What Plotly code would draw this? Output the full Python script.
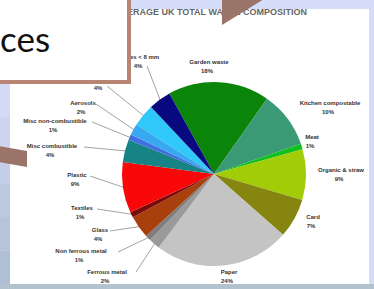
import math
import plotly.graph_objects as go

W, H = 374, 289

# ---- data ----
categories = ["Garden waste", "Kitchen compostable", "Meat", "Organic & straw", "Card", "Paper",
              "Ferrous metal", "Non ferrous metal", "Glass", "Textiles", "Plastic",
              "Misc combustible", "Misc non-combustible", "Aerosols", "Nappies", "Fines < 8 mm"]
values = [18, 10, 1, 9, 7, 24, 2, 1, 4, 1, 9, 4, 1, 2, 4, 4]
pct_labels = [f"{v}%" for v in values]
title_text = "AVERAGE UK TOTAL WASTE COMPOSITION"
callout_line1 = "Other"
callout_line2 = "ces"

# ---- styles / layout positions (px from top-left) ----
colors = ["#0a850a", "#3a9a76", "#10c020", "#a2cc08", "#858510", "#c4c4c4",
          "#9a9a9a", "#7e7e7e", "#a8400e", "#7a0a0a", "#f80808",
          "#168484", "#4070e0", "#38a8f0", "#30c8f8", "#0a0a80"]
label_pos = [(209, 62), (330, 103), (312, 137), (341, 170), (313, 217), (229, 272),
             (107, 272), (81, 251), (100, 230), (82, 208), (77, 175),
             (52, 146), (55, 121), (83, 103), (100, 79), (140, 57)]
leader_from = {6: (136, 272), 7: (118, 252), 8: (110, 231), 9: (97, 209), 10: (90, 176),
               11: (84, 147), 12: (92, 122), 13: (96, 104), 14: (107, 86), 15: (147, 66)}
CX, CY, R = 214, 174, 92
ROT = -29
BROWN = "#9a7468"
LABEL_FONT = dict(family="Liberation Sans, Arial", size=6, color="#333333", weight="bold")

fig = go.Figure()

# category labels and percentages (text drawn under the callout box)
fig.add_trace(go.Scatter(
    x=[p[0] for p in label_pos], y=[p[1] for p in label_pos], mode="text",
    text=categories, textposition="middle center", cliponaxis=False,
    textfont=LABEL_FONT, hoverinfo="skip", showlegend=False))
fig.add_trace(go.Scatter(
    x=[p[0] - 2 for p in label_pos], y=[p[1] + 9 for p in label_pos], mode="text",
    text=pct_labels, textposition="middle center", cliponaxis=False,
    textfont=LABEL_FONT, hoverinfo="skip", showlegend=False))
# chart title
fig.add_trace(go.Scatter(
    x=[211], y=[13], mode="text", text=[title_text], textposition="middle center",
    cliponaxis=False,
    textfont=dict(family="Liberation Sans, Arial", size=9, color="#666666", weight="bold"),
    hoverinfo="skip", showlegend=False))

# callout box (slide overlay) and pointers
fig.add_trace(go.Scatter(
    x=[-10, 129, 129, -10, -10], y=[-10, -10, 82, 82, -10], mode="lines", fill="toself",
    fillcolor="white", line=dict(color="#b88474", width=4), cliponaxis=False,
    hoverinfo="skip", showlegend=False))
fig.add_trace(go.Scatter(
    x=[222, 264, 222, 222], y=[-1, -1, 25, -1], mode="lines", fill="toself",
    fillcolor=BROWN, line=dict(width=0, color=BROWN), cliponaxis=False,
    hoverinfo="skip", showlegend=False))
fig.add_trace(go.Scatter(
    x=[-1, 27, 27, -1, -1], y=[146, 151, 167, 162, 146], mode="lines", fill="toself",
    fillcolor=BROWN, line=dict(width=0, color=BROWN), cliponaxis=False,
    hoverinfo="skip", showlegend=False))
fig.add_trace(go.Scatter(
    x=[0.01, 52], y=[43, 9], mode="text", text=[callout_line2, callout_line1],
    textposition=["middle right", "top left"], cliponaxis=False,
    textfont=dict(family="Lato, Carlito, sans-serif", size=35, color="#111111"),
    hoverinfo="skip", showlegend=False))

fig.add_trace(go.Pie(
    labels=categories, values=values, sort=False, direction="clockwise",
    rotation=ROT, textinfo="none", hoverinfo="skip", showlegend=False,
    marker=dict(colors=colors, line=dict(width=0)),
    domain=dict(x=[(CX - R) / W, (CX + R) / W], y=[1 - (CY + R) / H, 1 - (CY - R) / H]),
))

shapes = []
# white picture area
shapes.append(dict(type="rect", xref="x", yref="y", x0=10, y0=9, x1=369, y1=284,
                   fillcolor="white", line=dict(width=0), layer="below"))
# left gradient strip
strip_cols = ["#d2daf6", "#ccd4f0", "#c4cee8", "#bcc8e0", "#b6c4da", "#b0c0d4"]
n = len(strip_cols)
for i, c in enumerate(strip_cols):
    ya = 84 + (284 - 84) * i / n
    yb = 84 + (284 - 84) * (i + 1) / n
    shapes.append(dict(type="rect", xref="x", yref="y", x0=0, y0=ya, x1=10, y1=yb,
                       fillcolor=c, line=dict(width=0), layer="below"))
# bottom band
shapes.append(dict(type="rect", xref="x", yref="y", x0=0, y0=284, x1=374, y1=290,
                   fillcolor="#b2c2ce", line=dict(width=0), layer="above"))

# leader lines (end point derived from slice mid-angle)
total = sum(values)
cum = 0
for i, v in enumerate(values):
    mid = math.radians(ROT + (cum + v / 2) / total * 360)
    cum += v
    if i in leader_from:
        ex = CX + (R - 1) * math.sin(mid)
        ey = CY - (R - 1) * math.cos(mid)
        sx, sy = leader_from[i]
        shapes.append(dict(type="line", xref="x", yref="y", x0=sx, y0=sy, x1=ex, y1=ey,
                           line=dict(color="#8a8a8a", width=0.8), layer="below"))

fig.update_layout(
    width=W, height=H, margin=dict(l=0, r=0, t=0, b=0),
    paper_bgcolor="#d4dcf8", plot_bgcolor="rgba(0,0,0,0)",
    xaxis=dict(range=[0, W], visible=False, fixedrange=True, domain=[0, 1]),
    yaxis=dict(range=[H, 0], visible=False, fixedrange=True, domain=[0, 1]),
    shapes=shapes)
fig.write_html("out.html", config={"displayModeBar": False},
               post_script="document.body.style.margin='0';document.body.style.overflow='hidden';")
